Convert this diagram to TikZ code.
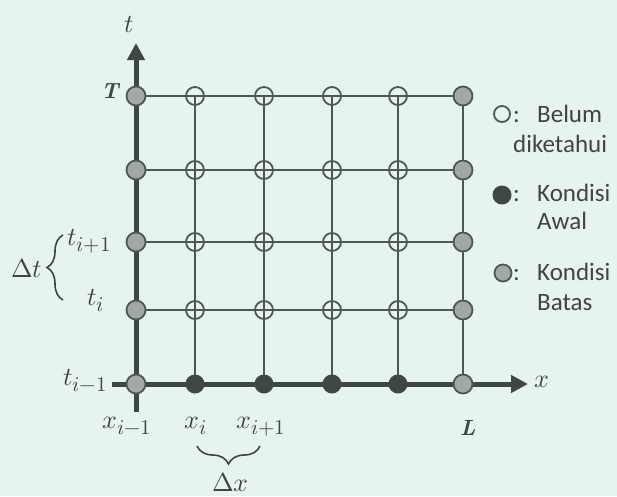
\documentclass[tikz,border=0pt]{standalone}
\usepackage{fontspec}
\usepackage{unicode-math}
\setmathfont{Latin Modern Math}
\DeclareMathSizes{26}{26}{21}{17}
\newfontfamily\legfont{Carlito}
\usetikzlibrary{arrows.meta,decorations.pathreplacing}
\definecolor{bg}{HTML}{E7F3EF}
\definecolor{lc}{HTML}{4E5853}
\definecolor{ac}{HTML}{3E4843}
\definecolor{bc}{HTML}{A2A8A4}
\definecolor{tc}{HTML}{3F4541}
\begin{document}
\begin{tikzpicture}[x=1pt,y=-1pt,
  gridl/.style={draw=lc, line width=2pt},
  axisl/.style={draw=ac, line width=5pt},
  opn/.style={circle, draw=lc, line width=1.8pt, minimum size=18pt, inner sep=0pt},
  bnd/.style={circle, draw=lc, fill=bc, line width=1.8pt, minimum size=19pt, inner sep=0pt},
  ini/.style={circle, fill=ac, minimum size=19pt, inner sep=0pt},
  mlab/.style={text=tc, font=\fontsize{26}{30}\selectfont, inner sep=0pt, anchor=base west},
  blab/.style={text=ac, font=\fontsize{22}{24}\selectfont\bfseries\itshape, inner sep=0pt, anchor=base west},
  leg/.style={text=tc, font=\legfont\fontsize{25}{30}\selectfont, inner sep=0pt, anchor=base west},
  brc/.style={draw=tc, line width=1.6pt, decorate, decoration={brace, amplitude=#1}},
]
\fill[bg] (0,0) rectangle (617,496);
\useasboundingbox (0,0) rectangle (617,496);
% grid points
\foreach \c/\x in {0/136,1/195,2/264,3/332,4/398,5/463}{
  \foreach \r/\y in {0/384,1/310,2/242,3/170,4/96}{
    \coordinate (p-\c-\r) at (\x,\y);
  }
}
% grid lines
\foreach \r in {1,2,3,4}{ \draw[gridl] (p-0-\r) -- (p-5-\r); }
\foreach \c in {1,2,3,4,5}{ \draw[gridl] (p-\c-0) -- (p-\c-4); }
% axes
\coordinate (tbot) at (136,412);
\coordinate (ttop) at (136,43);
\coordinate (xlft) at (112,384);
\coordinate (xrgt) at (528,384);
\draw[axisl,-{Triangle[length=17pt,width=17pt]}] (tbot) -- (ttop);
\draw[axisl,-{Triangle[length=17pt,width=17pt]}] (xlft) -- (xrgt);
% nodes
\foreach \c in {1,2,3,4}{
  \foreach \r in {1,2,3,4}{ \node[opn] (n-\c-\r) at (p-\c-\r) {}; }
  \node[ini] (n-\c-0) at (p-\c-0) {};
}
\foreach \r in {0,1,2,3,4}{
  \node[bnd] (n-0-\r) at (p-0-\r) {};
  \node[bnd] (n-5-\r) at (p-5-\r) {};
}
% labels
\node[mlab] (lt) at (124,32) {$t$};
\node[mlab] (lx) at (534,387) {$x$};
\node[blab] (lT) at (101,98) {T};
\node[blab] (lL) at (460,435) {L};
\node[mlab] (lti1) at (67,245) {$t_{i+1}$};
\node[mlab] (lti) at (87,305) {$t_{i}$};
\node[mlab] (ltim) at (63,385) {$t_{i-1}$};
\node[mlab] (lxim) at (102,428) {$x_{i-1}$};
\node[mlab] (lxi) at (184,428) {$x_{i}$};
\node[mlab] (lxi1) at (236,428) {$x_{i+1}$};
\node[mlab] (ldx) at (212,491) {$\Delta x$};
\node[mlab] (ldt) at (11,277) {$\Delta t$};
% braces
\coordinate (bt1) at (63,300);
\coordinate (bt2) at (63,235);
\draw[brc=16pt] (bt1) -- (bt2);
\coordinate (bx1) at (260,446);
\coordinate (bx2) at (197,446);
\draw[brc=18pt] (bx1) -- (bx2);
% legend
\node[opn, minimum size=16pt] (g1) at (502,114) {};
\node[leg] (g1c) at (513,122) {:};
\node[leg] (g1a) at (537,122) {Belum};
\node[leg] (g1b) at (513,152) {diketahui};
\node[ini] (g2) at (502,195) {};
\node[leg] (g2c) at (513,201) {:};
\node[leg] (g2a) at (537,201) {Kondisi};
\node[leg] (g2b) at (537,229) {Awal};
\node[bnd, minimum size=17pt] (g3) at (503,273) {};
\node[leg] (g3c) at (513,280) {:};
\node[leg] (g3a) at (537,280) {Kondisi};
\node[leg] (g3b) at (537,310) {Batas};
\end{tikzpicture}
\end{document}
